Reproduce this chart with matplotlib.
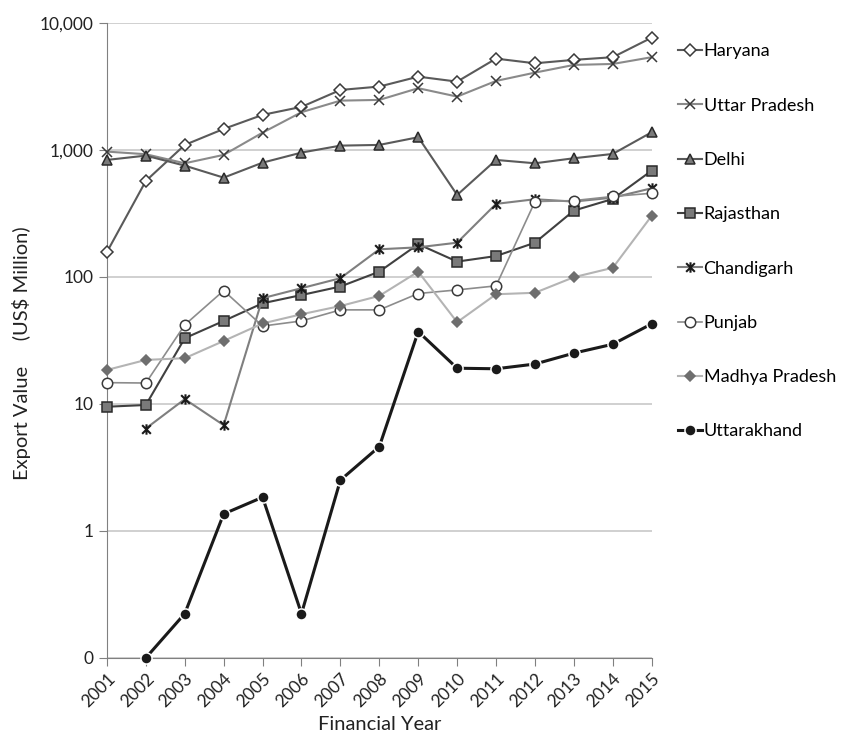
import numpy as np
import matplotlib
matplotlib.use('Agg')
import matplotlib.pyplot as plt
from matplotlib.path import Path
from matplotlib.ticker import FixedLocator, FixedFormatter, NullLocator

plt.rcParams['font.family'] = ['Lato', 'DejaVu Sans']

nan = np.nan
years = list(range(2001, 2016))

haryana = [157, 570, 1095, 1463, 1888, 2183, 2966, 3155, 3776, 3450, 5237, 4810, 5120, 5372, 7660]
uttar_pradesh = [970, 925, 785, 914, 1368, 1982, 2444, 2477, 3062, 2630, 3493, 4063, 4670, 4753, 5372]
delhi = [834, 902, 752, 605, 794, 953, 1081, 1095, 1259, 442, 834, 785, 860, 930, 1378]
rajasthan = [9.5, 9.8, 32.9, 45, 62, 72, 84, 110, 181, 132, 146, 186, 333, 411, 687]
chandigarh = [nan, 6.4, 10.9, 6.8, 68, 81.5, 97.7, 165, 171, 186, 376, 409, 392, 421, 499]
punjab = [14.7, 14.6, 41.9, 78, 41, 45, 55, 55, 74, 79, 85, 392, 399, 430, 456]
madhya_pradesh = [18.5, 22.2, 22.9, 31.3, 43, 50.8, 59, 70.9, 110, 44, 73, 75, 99.5, 118, 303]
uttarakhand = [nan, 0.1, 0.223, 1.36, 1.84, 0.223, 2.51, 4.61, 37.1, 19.1, 18.9, 20.6, 25.1, 29.5, 42.7]

y_ticks = [0.1, 1, 10, 100, 1000, 10000]
y_labels = ['0', '1', '10', '100', '1,000', '10,000']

# excel-style star: an x with a vertical bar through it
star = Path([(-1, -1), (1, 1), (-1, 1), (1, -1), (0, -1.2), (0, 1.2)],
            [Path.MOVETO, Path.LINETO] * 3)

fig = plt.figure(figsize=(8.42, 7.4), dpi=100)
ax = fig.add_axes([0.127, 0.111, 0.647, 0.858])

# (label, data, line colour, marker, marker face, marker edge, line width, marker size)
series = [
    ('Haryana', haryana, '#5a5a5a', 'D', 'white', '#3a3a3a', 1.5, 6.5),
    ('Uttar Pradesh', uttar_pradesh, '#8a8a8a', 'x', '#3a3a3a', '#3a3a3a', 1.5, 7),
    ('Delhi', delhi, '#5a5a5a', '^', '#7a7a7a', '#2a2a2a', 1.5, 7.5),
    ('Rajasthan', rajasthan, '#404040', 's', '#7a7a7a', '#2a2a2a', 1.5, 7),
    ('Chandigarh', chandigarh, '#7f7f7f', star, 'none', '#1a1a1a', 1.5, 7.5),
    ('Punjab', punjab, '#8c8c8c', 'o', 'white', '#3a3a3a', 1.2, 7.5),
    ('Madhya Pradesh', madhya_pradesh, '#b4b4b4', 'D', '#6e6e6e', '#6e6e6e', 1.5, 5.5),
    ('Uttarakhand', uttarakhand, '#1a1a1a', 'o', '#1a1a1a', 'white', 2.2, 8),
]

for label, vals, lc, mk, mf, me, lw, ms in series:
    mew = 1.5 if label == 'Chandigarh' else 1.1
    ax.plot(years, vals, color=lc, lw=lw, marker=mk, markerfacecolor=mf,
            markeredgecolor=me, markersize=ms, markeredgewidth=mew,
            label=label, clip_on=False, zorder=3)

ax.set_yscale('log')
ax.set_ylim(0.1, 10000)
ax.set_xlim(2001, 2015)
ax.yaxis.set_major_locator(FixedLocator(y_ticks))
ax.yaxis.set_major_formatter(FixedFormatter(y_labels))
ax.yaxis.set_minor_locator(NullLocator())
ax.set_xticks(years)
ax.set_xticklabels([str(y) for y in years], rotation=45, ha='right',
                   rotation_mode='anchor')

ax.grid(axis='y', color='#c8c8c8', lw=1.2)
ax.set_axisbelow(True)
for s in ['top', 'right']:
    ax.spines[s].set_visible(False)
for s in ['left', 'bottom']:
    ax.spines[s].set_color('#808080')
ax.tick_params(axis='both', colors='#808080', labelcolor='#222222',
               labelsize=12.5, length=6)
ax.tick_params(axis='x', pad=3)

ax.set_xlabel('Financial Year', fontsize=14.5, color='#222222')
ax.set_ylabel('Export Value     (US$ Million)', fontsize=14.5, color='#222222')
ax.yaxis.set_label_coords(-0.14, 0.48)

fig.legend(loc='upper left', bbox_to_anchor=(0.797, 0.951), frameon=False,
           fontsize=13, labelspacing=2.12, handlelength=1.3, handletextpad=0.1,
           borderaxespad=0)

fig.savefig('out.png', dpi=100)
